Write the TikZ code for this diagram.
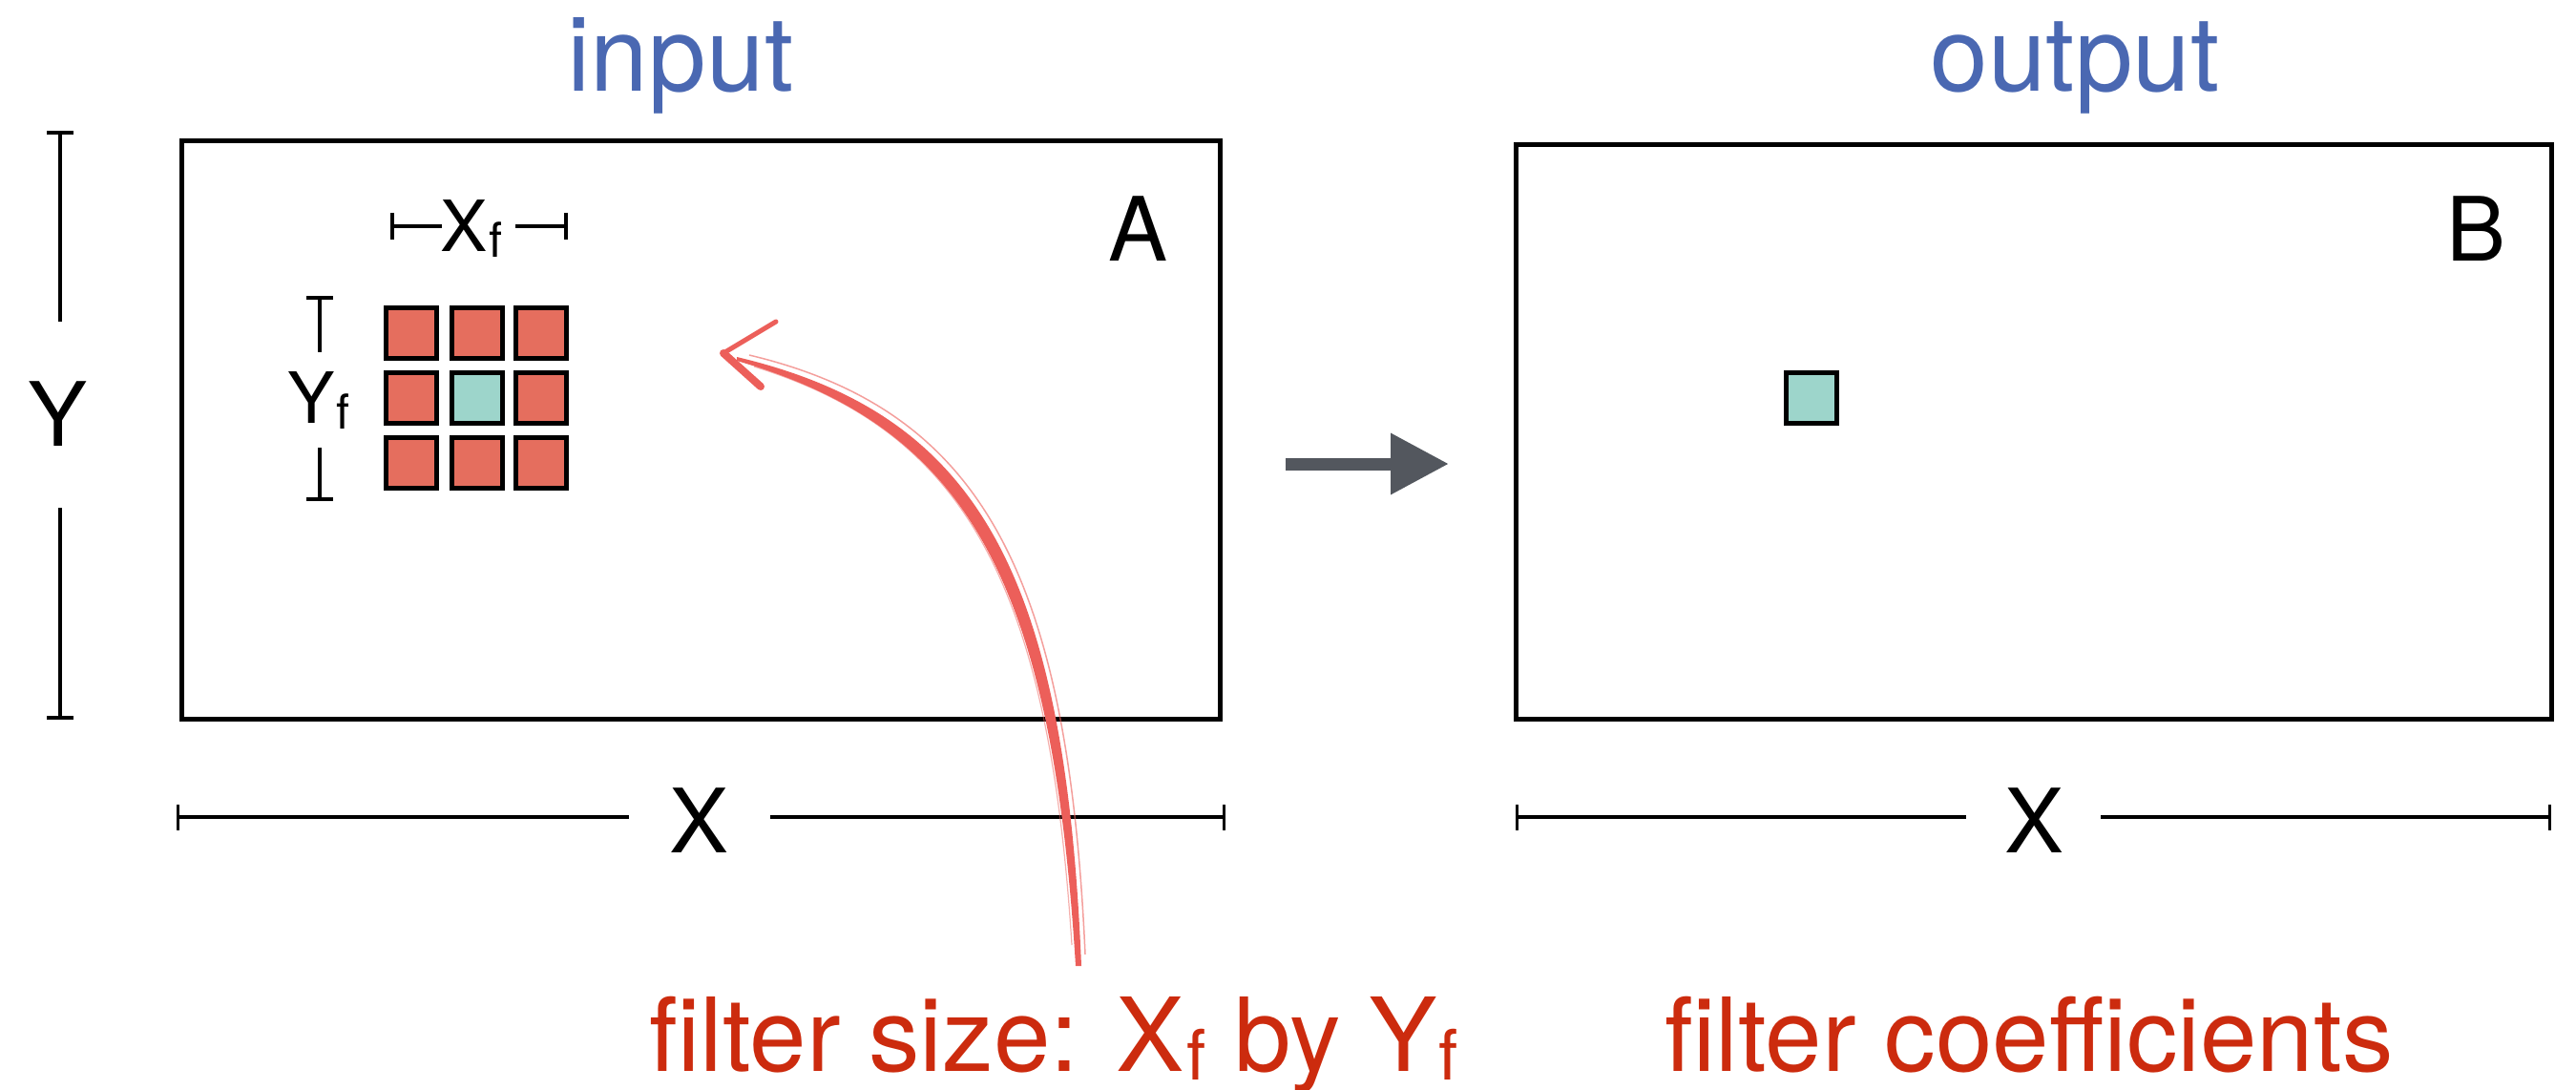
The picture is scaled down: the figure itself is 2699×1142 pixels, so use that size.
\documentclass[tikz,border=0pt]{standalone}
\usepackage{fontspec}
\setmainfont{TeX Gyre Heros}
\usetikzlibrary{arrows.meta}
\definecolor{lblblue}{HTML}{4A68B2}
\definecolor{capred}{HTML}{CC2B0E}
\definecolor{sqred}{HTML}{E56E5E}
\definecolor{sqteal}{HTML}{9DD5CB}
\definecolor{arrred}{HTML}{EC5F5A}
\definecolor{arrgray}{HTML}{53575E}
\newcommand\subf{\raisebox{-0.09em}{\scalebox{0.68}{f}}}
\begin{document}
\begin{tikzpicture}[x=1pt,y=-1pt,
  frame/.style={draw=black,line width=5pt,inner sep=0pt},
  cell/.style={draw=black,line width=5pt,minimum width=53pt,minimum height=53pt,inner sep=0pt,fill=sqred},
  tealcell/.style={cell,fill=sqteal},
  dimline/.style={draw=black,line width=4.5pt},
  bigletter/.style={inner sep=0pt,anchor=base,font=\fontsize{93}{100}\selectfont},
  smallletter/.style={inner sep=0pt,anchor=base,font=\fontsize{74}{80}\selectfont},
  headlbl/.style={inner sep=0pt,anchor=base,text=lblblue,font=\fontsize{109}{120}\selectfont},
  caplbl/.style={inner sep=0pt,anchor=base,text=capred,font=\fontsize{107}{120}\selectfont},
  flow/.style={draw=arrgray,line width=13pt,-{Triangle[length=61pt,width=61pt]}},
]
\useasboundingbox (0,0) rectangle (2699,1142);

% titles
\node[headlbl] (inlbl) at (713,96) {input};
\node[headlbl] (outlbl) at (2174,96) {output};

% frames
\node[frame,minimum width=1088pt,minimum height=605pt] (boxA) at (734,450.5) {};
\node[frame,minimum width=1085pt,minimum height=601pt] (boxB) at (2130.5,452.5) {};
\node[bigletter] (lblA) at (1193,273) {A};
\node[bigletter] (lblB) at (2594,273) {B};

% Y dimension
\node[bigletter] (lblY) at (61,467) {Y};
\draw[dimline] (63,139) -- (63,337);
\draw[dimline] (63,532) -- (63,752);
\draw[dimline] (49,139) -- (77,139);
\draw[dimline] (49,752) -- (77,752);

% X dimension under A
\node[bigletter] (lblXA) at (733,893) {X};
\draw[dimline] (186,856) -- (659,856);
\draw[dimline] (807,856) -- (1282,856);
\draw[line width=3pt] (186,843) -- (186,870);
\draw[line width=3pt] (1282,843) -- (1282,870);

% X dimension under B
\node[bigletter] (lblXB) at (2131,893) {X};
\draw[dimline] (1589,856) -- (2060,856);
\draw[dimline] (2201,856) -- (2671,856);
\draw[line width=3pt] (1589,843) -- (1589,870);
\draw[line width=3pt] (2671,843) -- (2671,870);

% filter grid
\node[cell] (c11) at (431,349) {};
\node[cell] (c12) at (500,349) {};
\node[cell] (c13) at (567,349) {};
\node[cell] (c21) at (431,417) {};
\node[tealcell] (c22) at (500,417) {};
\node[cell] (c23) at (567,417) {};
\node[cell] (c31) at (431,485) {};
\node[cell] (c32) at (500,485) {};
\node[cell] (c33) at (567,485) {};

% Xf dimension
\node[smallletter] (lblXf) at (494,263) {X\kern2pt\subf};
\draw[dimline] (411,237) -- (463,237);
\draw[dimline] (540,237) -- (593,237);
\draw[dimline] (411,223) -- (411,251);
\draw[dimline] (593,223) -- (593,251);

% Yf dimension
\node[smallletter] (lblYf) at (334,443) {Y\kern2pt\subf};
\draw[dimline] (335,312) -- (335,369);
\draw[dimline] (335,469) -- (335,523);
\draw[dimline] (321,312) -- (349,312);
\draw[dimline] (321,523) -- (349,523);

% output coefficient
\node[tealcell] (outcell) at (1898,417) {};

% flow arrow
\coordinate (flowS) at (1347,486);
\coordinate (flowE) at (1518,486);
\draw[flow] (flowS) -- (flowE);

% captions
\node[caplbl] (cap1) at (1104,1122) {filter size: X\kern2pt\subf\ by Y\kern2pt\subf};
\node[caplbl] (cap2) at (2126,1122) {filter coefficients};

% hand-drawn red arrow
\coordinate (cstart) at (1130,1012);
\coordinate (ctip) at (758,370);
\fill[arrred] (1133,1012) .. controls (1116,600) and (1025,434) .. (772,374)
   -- (772,378) .. controls (1013,448) and (1102,606) .. (1127,1012) -- cycle;
\draw[arrred,line width=1.5pt,opacity=0.6] (1137,1000) .. controls (1119,600) and (1028,430) .. (785,372);
\draw[arrred,line width=1.2pt,opacity=0.5] (1123,990) .. controls (1099,610) and (1010,452) .. (790,384);
\draw[arrred,line width=5pt,line cap=round] (813,337) -- (ctip);
\draw[arrred,line width=8pt,line cap=round] (ctip) -- (797,405);
\end{tikzpicture}
\end{document}
